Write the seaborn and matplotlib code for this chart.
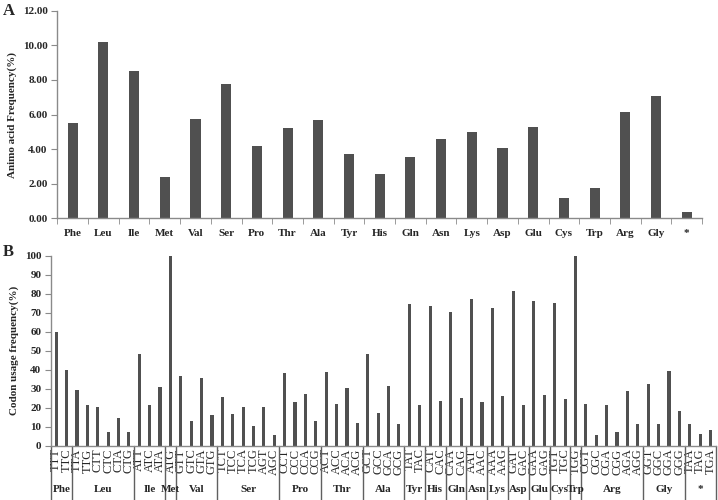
import numpy as np
import pandas as pd
import matplotlib
matplotlib.use("Agg")
import matplotlib.pyplot as plt
import seaborn as sns

# Panel A: amino acid frequency (%)
amino_acids = ['Phe', 'Leu', 'Ile', 'Met', 'Val', 'Ser', 'Pro', 'Thr', 'Ala', 'Tyr', 'His',
               'Gln', 'Asn', 'Lys', 'Asp', 'Glu', 'Cys', 'Trp', 'Arg', 'Gly', '*']
aa_freq = [5.50, 10.22, 8.50, 2.36, 5.76, 7.79, 4.21, 5.22, 5.67, 3.69, 2.56,
           3.54, 4.60, 4.99, 4.06, 5.28, 1.15, 1.73, 6.12, 7.09, 0.36]

# Panel B: codon usage frequency (%)
codons = ['TTT', 'TTC',
          'TTA', 'TTG', 'CTT', 'CTC', 'CTA', 'CTG',
          'ATT', 'ATC', 'ATA',
          'ATG',
          'GTT', 'GTC', 'GTA', 'GTG',
          'TCT', 'TCC', 'TCA', 'TCG', 'AGT', 'AGC',
          'CCT', 'CCC', 'CCA', 'CCG',
          'ACT', 'ACC', 'ACA', 'ACG',
          'GCT', 'GCC', 'GCA', 'GCG',
          'TAT', 'TAC', 'CAT', 'CAC', 'CAA', 'CAG', 'AAT', 'AAC',
          'AAA', 'AAG', 'GAT', 'GAC', 'GAA', 'GAG', 'TGT', 'TGC',
          'TGG',
          'CGT', 'CGC', 'CGA', 'CGG', 'AGA', 'AGG',
          'GGT', 'GGC', 'GGA', 'GGG',
          'TAA', 'TAG', 'TGA']
codon_freq = [60.0, 40.0,
              29.2, 21.4, 20.2, 7.0, 14.4, 7.4,
              48.1, 21.3, 30.7,
              100.0,
              36.8, 13.2, 35.8, 16.0,
              25.8, 16.8, 20.5, 10.2, 20.2, 5.4,
              38.1, 23.0, 27.2, 13.2,
              38.6, 21.9, 30.4, 11.9,
              48.2, 17.0, 31.2, 11.2,
              74.6, 21.4, 73.5, 23.7, 70.4, 25.3, 77.2, 23.2,
              72.3, 26.0, 81.2, 21.6, 76.0, 26.7, 74.9, 24.7,
              100.0,
              21.8, 5.6, 21.6, 7.0, 28.8, 11.2,
              32.5, 11.6, 39.5, 18.2,
              11.6, 6.3, 8.2]
codons_per_aa = [2, 6, 3, 1, 4, 6, 4, 4, 4, 2, 2, 2, 2, 2, 2, 2, 2, 1, 6, 4, 3]

bar_color = '#505050'
spine_color = '#8a8a8a'

sns.set_style("white")
plt.rcParams['font.family'] = ['Liberation Serif', 'DejaVu Serif']
plt.rcParams['font.weight'] = 'bold'

fig = plt.figure(figsize=(7.18, 5), dpi=100)

# ---- Panel A ----
ax1 = fig.add_axes([0.0798, 0.5634, 0.898, 0.415])
df_aa = pd.DataFrame({'aa': amino_acids, 'freq': aa_freq})
sns.barplot(data=df_aa, x='aa', y='freq', color=bar_color, width=0.33,
            saturation=1, linewidth=0, ax=ax1)
ax1.set_xlim(-0.5, len(amino_acids) - 0.5)
ax1.set_ylim(0, 12)
ax1.set_yticks(np.arange(0, 12.01, 2))
ax1.set_yticklabels([f'{v:.2f}' for v in np.arange(0, 12.01, 2)], fontsize=8, fontweight='bold')
ax1.set_xticks(range(len(amino_acids)))
ax1.set_xticklabels(amino_acids, fontsize=8, fontweight='bold')
ax1.set_xticks(np.arange(-0.5, len(amino_acids)), minor=True)
ax1.tick_params(axis='x', which='major', length=0, pad=8)
ax1.tick_params(axis='x', which='minor', length=4, direction='out', color=spine_color, bottom=True)
ax1.tick_params(axis='y', length=4, direction='out', color=spine_color, left=True, pad=3)
ax1.set_xlabel('')
ax1.set_ylabel('Animo acid Frequency(%)', fontsize=8, fontweight='bold', labelpad=4)
for s in ['top', 'right']:
    ax1.spines[s].set_visible(False)
for s in ['left', 'bottom']:
    ax1.spines[s].set_color(spine_color)
    ax1.spines[s].set_linewidth(1)

# ---- Panel B ----
ax2 = fig.add_axes([0.0710, 0.1086, 0.9258, 0.38])
df_codon = pd.DataFrame({'codon': codons, 'freq': codon_freq})
sns.barplot(data=df_codon, x='codon', y='freq', color=bar_color, width=0.3,
            saturation=1, linewidth=0, ax=ax2)
ax2.set_xlim(-0.5, len(codons) - 0.5)
ax2.set_ylim(0, 100)
ax2.set_yticks(range(0, 101, 10))
ax2.set_yticklabels([str(v) for v in range(0, 101, 10)], fontsize=8, fontweight='bold')
ax2.set_xticks(range(len(codons)))
ax2.set_xticklabels(codons, rotation=90, fontsize=9, fontweight='normal')
ax2.tick_params(axis='x', length=0, pad=2)
ax2.tick_params(axis='y', length=4, direction='out', color=spine_color, left=True, pad=3)
ax2.set_xlabel('')
ax2.set_ylabel('Codon usage frequency(%)', fontsize=8, fontweight='bold', labelpad=4)
for s in ['top', 'right']:
    ax2.spines[s].set_visible(False)
for s in ['left', 'bottom']:
    ax2.spines[s].set_color(spine_color)
    ax2.spines[s].set_linewidth(1)

# group separators and amino acid labels under the codons
trans = ax2.get_xaxis_transform()
bounds = np.concatenate([[0], np.cumsum(codons_per_aa)]) - 0.5
for b in bounds:
    ax2.plot([b, b], [0, -0.29], transform=trans, color='#606060', lw=1, clip_on=False)
for aa, lo, hi in zip(amino_acids, bounds[:-1], bounds[1:]):
    ax2.text((lo + hi) / 2, -0.232, aa, transform=trans, ha='center', va='center',
             fontsize=8, fontweight='bold')

fig.text(0.004, 0.978, 'A', fontsize=12, fontweight='bold', va='center', ha='left')
fig.text(0.004, 0.495, 'B', fontsize=12, fontweight='bold', va='center', ha='left')

fig.savefig('out.png', dpi=100)
